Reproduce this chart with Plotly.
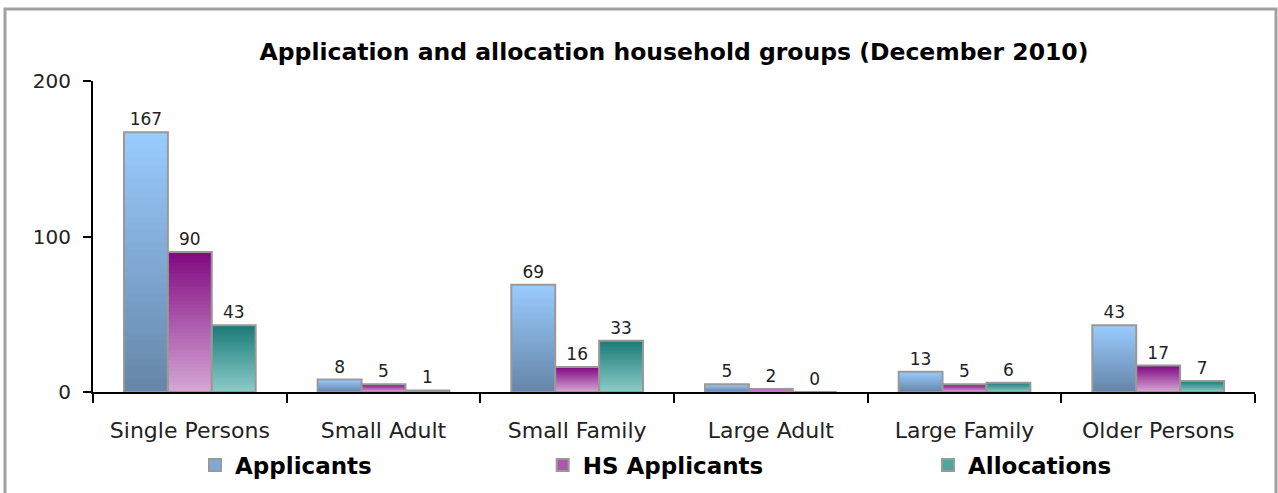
import plotly.graph_objects as go

categories = ["Single Persons", "Small Adult", "Small Family", "Large Adult", "Large Family", "Older Persons"]
applicants = [167, 8, 69, 5, 13, 43]
hs_applicants = [90, 5, 16, 2, 5, 17]
allocations = [43, 1, 33, 0, 6, 7]
y_ticks = [0, 100, 200]
title_text = "Application and allocation household groups (December 2010)"

series = [
    ("Applicants", applicants, (0x66, 0x85, 0xA8), (0x99, 0xCC, 0xFF), "legend"),
    ("HS Applicants", hs_applicants, (0xD6, 0xA8, 0xD6), (0x80, 0x08, 0x80), "legend2"),
    ("Allocations", allocations, (0x8C, 0xCC, 0xC8), (0x1A, 0x7A, 0x78), "legend3"),
]

K = 40
fig = go.Figure()

def mix(c0, c1, t):
    return "rgb(%d,%d,%d)" % tuple(round(a + (b - a) * t) for a, b in zip(c0, c1))

for name, vals, cbot, ctop, lg in series:
    # vertical gradient: nested bars from full height downward
    for k in range(K):
        frac = (K - k) / K
        t = (K - k - 0.5) / K
        fig.add_trace(go.Bar(
            x=categories,
            y=[v * frac for v in vals],
            offsetgroup=name,
            marker=dict(color=mix(cbot, ctop, t), line=dict(width=0)),
            showlegend=False, hoverinfo="skip",
        ))
    # outline + labels
    fig.add_trace(go.Bar(
        x=categories, y=vals, offsetgroup=name, name=name,
        marker=dict(color="rgba(0,0,0,0)", line=dict(color="#999999", width=2)),
        text=[str(v) for v in vals], textposition="outside",
        textfont=dict(family="DejaVu Sans", size=17, color="#222222"),
        cliponaxis=False, showlegend=False,
    ))
    # legend entry
    fig.add_trace(go.Bar(
        x=categories, y=[None] * len(categories), offsetgroup=name, name=name,
        marker=dict(color=mix(cbot, ctop, 0.5), line=dict(color="#999999", width=2)),
        showlegend=True, legend=lg,
    ))

legend_common = dict(
    orientation="h", yanchor="middle", xanchor="left", y=-0.235,
    font=dict(family="DejaVu Sans", size=23, color="#000000", weight="bold"),
    bgcolor="rgba(0,0,0,0)", borderwidth=0,
)

fig.update_layout(
    width=1278, height=493,
    margin=dict(l=93, r=23, t=81, b=101, autoexpand=False),
    paper_bgcolor="white", plot_bgcolor="white",
    barmode="group", bargap=0.32, bargroupgap=0,
    title=dict(text="<b>" + title_text + "</b>", x=(674) / 1278, xanchor="center",
               y=1 - 52 / 493, yanchor="middle",
               font=dict(family="DejaVu Sans", size=23.5, color="#000000")),
    legend=dict(x=0.0878, **legend_common),
    legend2=dict(x=0.387, **legend_common),
    legend3=dict(x=0.7186, **legend_common),
    showlegend=True,
    xaxis=dict(
        showline=True, linecolor="#000000", linewidth=2, automargin=False,
        ticks="outside", tickson="boundaries", ticklen=9, tickwidth=2, tickcolor="#000000",
        tickfont=dict(family="DejaVu Sans", size=22, color="#222222"),
        ticklabelstandoff=18, showgrid=False, zeroline=False,
    ),
    yaxis=dict(
        range=[0, 200], tickvals=y_ticks, automargin=False,
        showline=True, linecolor="#000000", linewidth=2,
        ticks="outside", ticklen=8, tickwidth=2, tickcolor="#000000",
        tickfont=dict(family="DejaVu Sans", size=20, color="#222222"),
        ticklabelstandoff=8, showgrid=False, zeroline=False,
    ),
    shapes=[dict(type="rect", xref="paper", yref="paper",
                 x0=(5 - 93) / 1162, x1=(1276 - 93) / 1162,
                 y0=(392 - 500) / 311, y1=(392 - 9) / 311,
                 line=dict(color="#A0A0A0", width=3), fillcolor="rgba(0,0,0,0)", layer="below")],
)

fig.write_html("out.html")
